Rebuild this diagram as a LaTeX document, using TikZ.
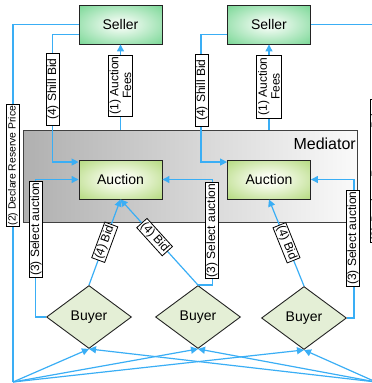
\documentclass[tikz,border=0pt]{standalone}
\usepackage{fontspec}
\setmainfont{Liberation Sans}
\usetikzlibrary{shapes.geometric,arrows.meta,calc}

\definecolor{wireblue}{RGB}{58,174,245}
\definecolor{sellerin}{RGB}{234,249,237}
\definecolor{sellerout}{RGB}{58,196,100}
\definecolor{auctin}{RGB}{250,253,242}
\definecolor{auctout}{RGB}{140,198,62}
\definecolor{buyerfill}{RGB}{228,239,214}
\definecolor{medleft}{RGB}{176,176,176}
\definecolor{medright}{RGB}{250,250,250}
\definecolor{edgedark}{RGB}{35,35,35}

% soft glow from the centre of a box towards its border
\pgfdeclareradialshading{sellerglow}{\pgfpoint{0bp}{0bp}}{color(0bp)=(sellerin); color(6bp)=(sellerin); color(52bp)=(sellerout); color(100bp)=(sellerout)}
\pgfdeclareradialshading{auctglow}{\pgfpoint{0bp}{0bp}}{color(0bp)=(auctin); color(6bp)=(auctin); color(52bp)=(auctout); color(100bp)=(auctout)}

\tikzset{
  actor/.style={draw=edgedark, line width=0.9pt, rectangle, inner sep=0pt,
    font=\fontsize{14}{16}\selectfont},
  sellerbox/.style={actor, shading=sellerglow, minimum width=83pt, minimum height=39pt},
  auctbox/.style={actor, shading=auctglow, minimum width=83pt, minimum height=39pt},
  buyerbox/.style={draw=edgedark, line width=0.9pt, diamond, fill=buyerfill,
    inner sep=0pt, minimum width=85pt, minimum height=63pt,
    font=\fontsize{14}{16}\selectfont},
  wire/.style={draw=wireblue, line width=1.2pt},
  tipend/.style={-{Triangle[length=7pt,width=7pt]}},
  lab/.style={draw=black, line width=0.8pt, fill=white, inner sep=1.3pt,
    align=center, font=\fontsize{12}{12.8}\selectfont},
}

\begin{document}
\begin{tikzpicture}[x=1pt,y=-1pt]
\useasboundingbox (0,0) rectangle (372,383);

% mediator platform
\node[draw=black!75, line width=0.8pt, left color=medleft, right color=medright,
      minimum width=334pt, minimum height=92pt, inner sep=0pt] (mediator) at (190,176) {};
\node[anchor=east, inner sep=0pt, font=\fontsize{16}{18}\selectfont] (medtitle) at (356,144) {Mediator};

% sellers, auctions, buyers
\node[sellerbox] (seller1) at (120.5,24.5) {Seller};
\node[sellerbox] (seller2) at (269,24.5) {Seller};
\node[auctbox] (auction1) at (120.5,179.5) {Auction};
\node[auctbox] (auction2) at (269,179.5) {Auction};
\node[buyerbox] (buyer1) at (89,317) {Buyer};
\node[buyerbox] (buyer2) at (198,317) {Buyer};
\node[buyerbox] (buyer3) at (304,318) {Buyer};

% corners where the reserve price lines fan out to the buyers
\coordinate (dl) at (13,382);
\coordinate (dr) at (376,382);

% (2) declare reserve price
\draw[wire] (seller1.west) -| (dl);
\draw[wire] (seller2.east) -| (dr);
\foreach \b in {buyer1,buyer2,buyer3}{
  \draw[wire,tipend] (dl) -- (\b.south);
  \draw[wire,tipend] (dr) -- (\b.south);
}

% (4) shill bids
\draw[wire,tipend] ([yshift=10pt]seller1.south west) -| ([xshift=-26pt,yshift=-2.5pt]auction1.north west) -- ([yshift=-2.5pt]auction1.north west);
\draw[wire,tipend] ([yshift=10pt]seller2.south west) -| ([xshift=-26pt,yshift=-2.5pt]auction2.north west) -- ([yshift=-2.5pt]auction2.north west);

% (1) auction fees
\draw[wire,tipend] (seller1.south |- mediator.north) -- (seller1.south);
\draw[wire,tipend] (seller2.south |- mediator.north) -- (seller2.south);

% (3) select auction
\draw[wire,tipend] (buyer1.west) -| ([xshift=-43pt]auction1.west) -- (auction1.west);
\draw[wire,tipend] (buyer2.north) -| ([xshift=50pt]auction1.east) -- (auction1.east);
\draw[wire,tipend] (buyer3.east) -| ([xshift=43pt]auction2.east) -- (auction2.east);

% (4) bids
\draw[wire,tipend] (buyer1.north) -- node[lab,sloped,pos=0.5] (bid1) {(4) Bid} (auction1.south);
\draw[wire,tipend] (buyer2.north) -- node[lab,sloped,pos=0.56] (bid2) {(4) Bid} (auction1.south);
\draw[wire,tipend] (buyer3.north) -- node[lab,sloped,pos=0.5] (bid3) {(4) Bid} (auction2.south);

% labels on the vertical connectors
\node[lab,rotate=90,minimum width=121pt,font=\fontsize{10.4}{12}\selectfont] (declL) at (13,165.5) {(2) Declare Reserve Price};
\node[lab,rotate=90,minimum width=142pt,font=\fontsize{12.2}{14}\selectfont] (declR) at (377,171) {(2) Declare Reserve Price};
\node[lab,rotate=90,minimum width=72pt] (shill1) at (53,89) {(4) Shill Bid};
\node[lab,rotate=90,minimum width=72pt] (shill2) at (202,90) {(4) Shill Bid};
\node[lab,rotate=90,minimum width=61pt] (fees1) at (120.5,85.5) {(1) Auction\\Fees};
\node[lab,rotate=90,minimum width=63pt] (fees2) at (269,86.5) {(1) Auction\\Fees};
\node[lab,rotate=90,minimum width=94pt] (sel1) at (36,229) {(3) Select auction};
\node[lab,rotate=90,minimum width=95pt] (sel2) at (212,230.5) {(3) Select auction};
\node[lab,rotate=90,minimum width=96pt] (sel3) at (353,238) {(3) Select auction};
\end{tikzpicture}
\end{document}
